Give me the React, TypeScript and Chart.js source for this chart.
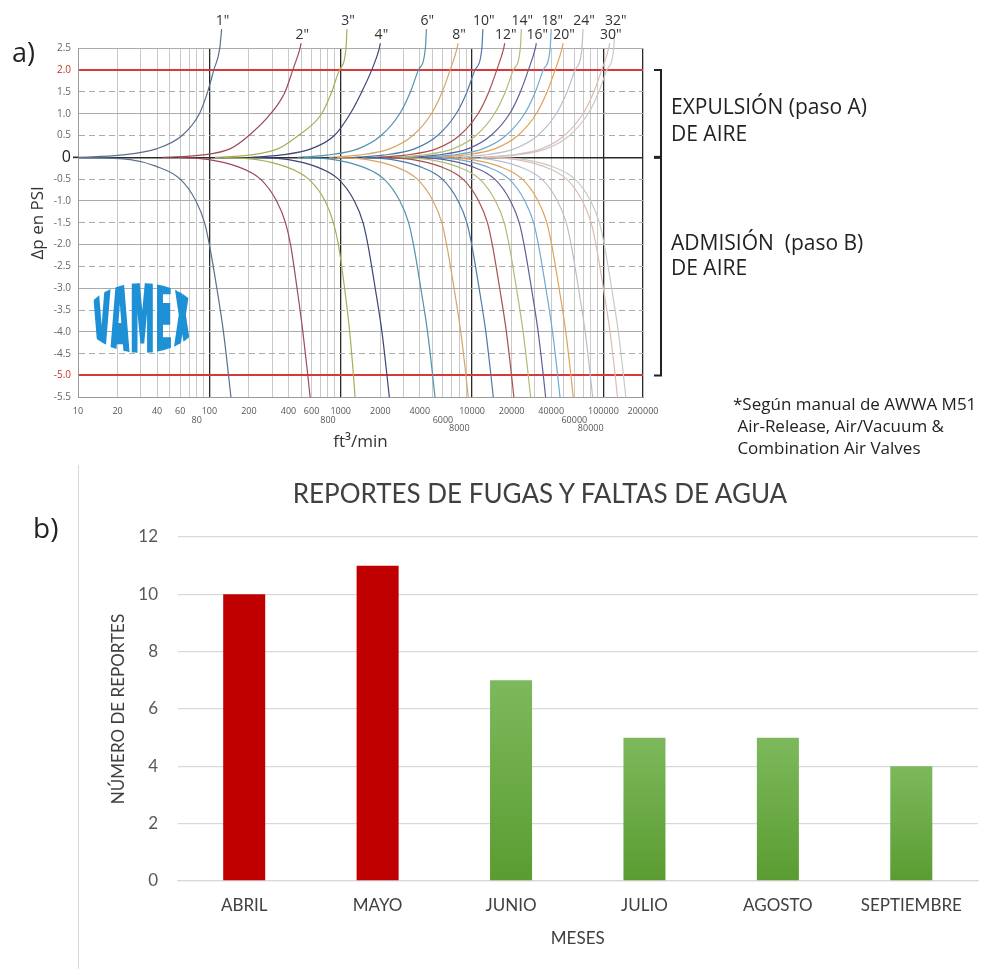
import React, { useEffect, useRef } from "react";
import { Chart, registerables } from "chart.js";

Chart.register(...registerables);

// ---------------- Panel a) data ----------------
const SIZES = ['1"', '2"', '3"', '4"', '6"', '8"', '10"', '12"', '14"', '16"', '18"', '20"', '24"', '30"', '32"'];
const SIZE_COLORS = ["#5b6f8c", "#9c4a5a", "#a9ad57", "#3d4674", "#4f93ad", "#d7a468", "#4e79a6", "#a65050", "#b3ba76", "#5f5f96", "#6fa9d2", "#e3a155", "#b9bfcc", "#dcbcb4", "#c9c9c9"];
const LABEL_ROW = [0, 1, 0, 1, 0, 1, 0, 1, 0, 1, 0, 1, 0, 1, 0];
const LEADER_DP = [2.94, 2.62];

// Expulsion (positive) curves: Δp values and flow (ft3/min) per size; last flow = leader end
const EXP_DP = [0, 0.05, 0.2, 0.5, 1.0, 1.5, 2.0, 2.5];
const EXP_Q = [
  [10, 21, 40, 62, 84, 97, 108, 120, 124],
  [44, 86, 145, 200, 293, 377, 431, 490, 500],
  [110, 200, 335, 475, 716, 853, 975, 1097, 1115],
  [206, 344, 600, 895, 1180, 1445, 1720, 1968, 2005],
  [470, 780, 1370, 2030, 2810, 3390, 3900, 4410, 4490],
  [820, 1360, 2380, 3540, 4900, 5920, 6800, 7680, 7820],
  [1260, 2100, 3680, 5460, 7560, 9140, 10500, 11870, 12080],
  [1850, 3080, 5390, 8010, 11100, 13400, 15400, 17400, 17720],
  [2470, 4120, 7210, 10700, 14800, 17900, 20600, 23300, 23720],
  [3220, 5360, 9380, 13900, 19300, 23300, 26800, 30300, 30850],
  [4180, 6960, 12200, 18100, 25100, 30300, 34800, 39300, 40020],
  [5140, 8560, 15000, 22300, 30800, 37200, 42800, 48400, 49280],
  [7280, 12100, 21200, 31600, 43700, 52800, 60700, 68600, 69850],
  [11600, 19400, 34000, 50400, 69800, 84400, 97000, 109600, 111600],
  [12700, 21200, 37100, 55100, 76300, 92200, 106000, 119800, 122000],
];

// Admission (negative) curves
const ADM_DP = [0, -0.05, -0.2, -0.5, -1.0, -1.5, -2.0, -3.0, -4.0, -5.0, -5.5];
const ADM_Q = [
  [10, 25, 39, 60, 79, 92, 100, 114, 128, 140, 146],
  [58, 99, 160, 245, 325, 380, 415, 465, 515, 562, 585],
  [128, 230, 370, 570, 760, 880, 960, 1070, 1170, 1250, 1285],
  [234, 400, 633, 960, 1270, 1480, 1610, 1830, 2060, 2250, 2345],
  [522, 887, 1410, 2140, 2820, 3290, 3580, 4070, 4580, 5010, 5220],
  [935, 1590, 2525, 3830, 5050, 5890, 6400, 7290, 8200, 8980, 9350],
  [1450, 2465, 3915, 5945, 7830, 9135, 9930, 11310, 12720, 13920, 14500],
  [2080, 3540, 5620, 8530, 11230, 13100, 14250, 16220, 18240, 19970, 20800],
  [2790, 4740, 7530, 11440, 15070, 17580, 19110, 21760, 24470, 26780, 27900],
  [3630, 6170, 9800, 14880, 19600, 22870, 24870, 28310, 31840, 34850, 36300],
  [4670, 7940, 12610, 19150, 25220, 29420, 31990, 36430, 40960, 44830, 46700],
  [5890, 10010, 15900, 24150, 31810, 37110, 40350, 45940, 51660, 56540, 58900],
  [8280, 14080, 22360, 33950, 44710, 52160, 56720, 64580, 72620, 79490, 82800],
  [12800, 21760, 34560, 52480, 69120, 80640, 87680, 99840, 112260, 122880, 128000],
  [14800, 25160, 39960, 60680, 79920, 93240, 101380, 115440, 129800, 142080, 148000],
];

const X_MIN = 10;
const X_MAX = 200000;
const X_GRID = [
  10, 20, 30, 40, 50, 60, 70, 80, 90,
  100, 200, 300, 400, 500, 600, 700, 800, 900,
  1000, 2000, 3000, 4000, 5000, 6000, 7000, 8000, 9000,
  10000, 20000, 30000, 40000, 50000, 60000, 70000, 80000, 90000,
  100000, 200000,
];
const X_LABEL_VALUES = [10, 20, 40, 60, 80, 100, 200, 400, 600, 800, 1000, 2000, 4000, 6000, 8000, 10000, 20000, 40000, 60000, 80000, 100000, 200000];
const X_LABEL_ROW = [0, 0, 0, 0, 1, 0, 0, 0, 0, 1, 0, 0, 0, 1, 2, 0, 0, 0, 1, 2, 0, 0];
const X_DARK = [100, 1000, 10000, 100000, 200000];

const Y_MIN = -5.5;
const Y_MAX = 2.5;
const Y_TICKS = [-5.5, -5, -4.5, -4, -3.5, -3, -2.5, -2, -1.5, -1, -0.5, 0, 0.5, 1, 1.5, 2, 2.5];
const Y_RED = [2, -5];
const BRACKET = [2, 0, -5];

// ---------------- Panel b) data ----------------
const MONTHS = ["ABRIL", "MAYO", "JUNIO", "JULIO", "AGOSTO", "SEPTIEMBRE"];
const REPORTS = [10, 11, 7, 5, 5, 4];
const BAR_KIND = ["red", "red", "green", "green", "green", "green"];
const B_Y_MAX = 12;
const B_Y_STEP = 2;

const FA = '"Open Sans", sans-serif';
const FB = 'Lato, sans-serif';

function ChartA() {
  const ref = useRef<HTMLCanvasElement | null>(null);
  useEffect(() => {
    if (!ref.current) return;
    const datasets: any[] = [];
    SIZES.forEach((s, i) => {
      const pos = EXP_DP.map((d, k) => ({ x: EXP_Q[i][k], y: d }));
      pos.push({ x: EXP_Q[i][EXP_DP.length], y: LEADER_DP[LABEL_ROW[i]] });
      datasets.push({
        label: s + " exp",
        sizeLabel: s,
        data: pos,
        borderColor: SIZE_COLORS[i],
        borderWidth: 1.2,
        pointRadius: 0,
        cubicInterpolationMode: "monotone",
        clip: false,
        fill: false,
      });
      datasets.push({
        label: s + " adm",
        data: ADM_DP.map((d, k) => ({ x: ADM_Q[i][k], y: d })),
        borderColor: SIZE_COLORS[i],
        borderWidth: 1.2,
        pointRadius: 0,
        cubicInterpolationMode: "monotone",
        clip: false,
        fill: false,
      });
    });

    const labelsPlugin = {
      id: "sizeLabels",
      afterDatasetsDraw(chart: any) {
        const ctx = chart.ctx;
        ctx.save();
        ctx.font = `14px ${FA}`;
        ctx.fillStyle = "#333";
        ctx.textAlign = "center";
        ctx.textBaseline = "bottom";
        chart.data.datasets.forEach((ds: any, i: number) => {
          if (!ds.sizeLabel) return;
          const meta = chart.getDatasetMeta(i);
          const pt = meta.data[meta.data.length - 1];
          ctx.fillText(ds.sizeLabel, pt.x + 1, pt.y - 1);
        });
        // bracket
        const y = chart.scales.y;
        const yt = y.getPixelForValue(BRACKET[0]);
        const ym = y.getPixelForValue(BRACKET[1]);
        const yb = y.getPixelForValue(BRACKET[2]);
        ctx.strokeStyle = "#222";
        ctx.lineWidth = 2;
        ctx.beginPath();
        ctx.moveTo(654, yt);
        ctx.lineTo(661, yt);
        ctx.lineTo(661, yb);
        ctx.lineTo(654, yb);
        ctx.stroke();
        ctx.lineWidth = 3;
        ctx.beginPath();
        ctx.moveTo(654, ym);
        ctx.lineTo(661, ym);
        ctx.stroke();
        // short tick left of the plot on the zero line
        ctx.strokeStyle = "#2a2a2a";
        ctx.lineWidth = 1.6;
        ctx.beginPath();
        ctx.moveTo(chart.chartArea.left - 5, ym);
        ctx.lineTo(chart.chartArea.left, ym);
        ctx.stroke();
        ctx.restore();
      },
    };

    const chart = new Chart(ref.current, {
      type: "line",
      data: { datasets },
      options: {
        animation: false,
        responsive: false,
        maintainAspectRatio: false,
        layout: { padding: { left: 0, right: 348, top: 48.3, bottom: 0 } },
        plugins: { legend: { display: false }, tooltip: { enabled: false } },
        elements: { point: { radius: 0 } },
        scales: {
          x: {
            type: "logarithmic",
            min: X_MIN,
            max: X_MAX,
            afterBuildTicks: (s: any) => {
              s.ticks = X_GRID.map((v) => ({ value: v }));
            },
            afterFit: (s: any) => {
              s.height = 62.7;
            },
            ticks: {
              autoSkip: false,
              maxRotation: 0,
              minRotation: 0,
              padding: 10,
              color: "#555",
              font: { family: FA, size: 9, lineHeight: 0.95 },
              callback: (v: any) => {
                const i = X_LABEL_VALUES.indexOf(Number(v));
                if (i < 0) return "";
                const row = X_LABEL_ROW[i];
                if (!row) return String(v);
                const lines: string[] = [];
                for (let k = 0; k < row; k++) lines.push("");
                lines.push(String(v));
                return lines;
              },
            },
            grid: {
              drawTicks: false,
              color: (c: any) => (c.tick && X_DARK.includes(c.tick.value) ? "#2a2a2a" : "#c9c9c9"),
              lineWidth: (c: any) => (c.tick && X_DARK.includes(c.tick.value) ? 1.3 : 1),
            },
            border: { color: "#9a9a9a", width: 1 },
            title: {
              display: true,
              text: "ft³/min",
              color: "#333",
              font: { family: FA, size: 17 },
              padding: { top: 0, bottom: 8 },
            },
          },
          y: {
            type: "linear",
            min: Y_MIN,
            max: Y_MAX,
            afterBuildTicks: (s: any) => {
              s.ticks = Y_TICKS.map((v) => ({ value: v }));
            },
            afterFit: (s: any) => {
              s.width = 78;
            },
            ticks: {
              autoSkip: false,
              padding: 7,
              color: (c: any) => {
                const v = c.tick ? c.tick.value : null;
                if (Y_RED.includes(v)) return "#c0392b";
                if (v === 0) return "#222";
                return "#666";
              },
              font: (c: any) => {
                const v = c.tick ? c.tick.value : null;
                return v === 0 ? { family: FA, size: 16 } : { family: FA, size: 10 };
              },
              callback: (v: any) => (Number(v) === 0 ? "0" : Number(v).toFixed(1)),
            },
            grid: {
              drawTicks: false,
              color: (c: any) => {
                const v = c.tick ? c.tick.value : null;
                if (Y_RED.includes(v)) return "#d6393a";
                if (v === 0) return "#2a2a2a";
                return "#ababab";
              },
              lineWidth: (c: any) => {
                const v = c.tick ? c.tick.value : null;
                if (Y_RED.includes(v)) return 2;
                if (v === 0) return 1.6;
                return 1;
              },
            },
            border: {
              color: "#9a9a9a",
              dash: (c: any) => {
                const v = c.tick ? c.tick.value : null;
                if (v === null || v === undefined) return [];
                if (v === Y_MIN || v === Y_MAX) return [];
                return Math.abs(v - Math.round(v)) > 0.1 ? [6, 4] : [];
              },
            },
            title: {
              display: true,
              text: "Δp en PSI",
              color: "#333",
              font: { family: FA, size: 17 },
              padding: { top: 27.8, bottom: 0 },
            },
          },
        },
      } as any,
      plugins: [labelsPlugin],
    });
    return () => chart.destroy();
  }, []);
  return <canvas ref={ref} width={991} height={460} style={{ position: "absolute", left: 0, top: 0, width: 991, height: 460 }} />;
}

function ChartB() {
  const ref = useRef<HTMLCanvasElement | null>(null);
  useEffect(() => {
    if (!ref.current) return;
    const chart = new Chart(ref.current, {
      type: "bar",
      data: {
        labels: MONTHS,
        datasets: [
          {
            data: REPORTS,
            barPercentage: 0.315,
            categoryPercentage: 1,
            backgroundColor: (c: any) => {
              if (BAR_KIND[c.dataIndex] === "red") return "#c00000";
              const ch = c.chart;
              const ys = ch.scales && ch.scales.y;
              if (!ch.chartArea || !ys) return "#6aab45";
              const top = ys.getPixelForValue(REPORTS[c.dataIndex]);
              const g = ch.ctx.createLinearGradient(0, top, 0, ch.chartArea.bottom);
              g.addColorStop(0, "#7db95c");
              g.addColorStop(1, "#5a9c31");
              return g;
            },
            borderWidth: 0,
          },
        ],
      },
      options: {
        animation: false,
        responsive: false,
        maintainAspectRatio: false,
        layout: { padding: { left: 0, right: 13, top: 77, bottom: 0 } },
        plugins: { legend: { display: false }, tooltip: { enabled: false } },
        scales: {
          x: {
            afterFit: (s: any) => {
              s.height = 88;
            },
            grid: { display: false, drawTicks: false },
            border: { color: "#d9d9d9", width: 1.3 },
            ticks: { color: "#404040", font: { family: FB, size: 17 }, padding: 14.8, maxRotation: 0, autoSkip: false },
            title: {
              display: true,
              text: "MESES",
              color: "#404040",
              font: { family: FB, size: 17 },
              padding: { top: 0, bottom: 19.8 },
            },
          },
          y: {
            min: 0,
            max: B_Y_MAX,
            afterFit: (s: any) => {
              s.width = 177.5;
            },
            ticks: { stepSize: B_Y_STEP, color: "#595959", font: { family: FB, size: 17 }, padding: 19.5 },
            grid: { color: "#d9d9d9", lineWidth: 1.3, drawTicks: false },
            border: { display: false },
            title: {
              display: true,
              text: "NÚMERO DE REPORTES",
              color: "#404040",
              font: { family: FB, size: 17 },
              padding: { top: 108.8, bottom: 0 },
            },
          },
        },
      } as any,
    });
    return () => chart.destroy();
  }, []);
  return <canvas ref={ref} width={991} height={509} style={{ position: "absolute", left: 0, top: 460, width: 991, height: 509 }} />;
}

export default function App() {
  const txtA: React.CSSProperties = { position: "absolute", fontFamily: FA, color: "#222", whiteSpace: "pre", margin: 0 };
  return (
    <div style={{ position: "absolute", left: 0, top: 0, width: 991, height: 969, background: "#fff", overflow: "hidden" }}>
      <ChartA />
      <ChartB />
      {/* logo */}
      <div style={{ position: "absolute", left: 86, top: 283, width: 112, height: 70, borderRadius: "50%", overflow: "hidden" }}>
        <div
          style={{
            position: "absolute",
            left: "50%",
            top: "50%",
            transform: "translate(-50%, -50%) scale(0.55, 2.5)",
            fontFamily: '"DejaVu Sans", sans-serif',
            fontWeight: 900,
            fontSize: 44,
            lineHeight: "44px",
            color: "#1e90d6",
            WebkitTextStroke: "2.5px #1e90d6",
            letterSpacing: "2px",
            textIndent: "2px",
            whiteSpace: "nowrap",
          } as any}
        >
          VAMEX
        </div>
      </div>
      <div style={{ ...txtA, left: 12, top: 37, fontSize: 27, lineHeight: "30px" }}>a)</div>
      <div style={{ ...txtA, left: 671, top: 92, fontSize: 21, lineHeight: "28px" }}>EXPULSIÓN (paso A)</div>
      <div style={{ ...txtA, left: 671, top: 119, fontSize: 21, lineHeight: "28px" }}>DE AIRE</div>
      <div style={{ ...txtA, left: 671, top: 228, fontSize: 21, lineHeight: "28px" }}>ADMISIÓN  (paso B)</div>
      <div style={{ ...txtA, left: 671, top: 253, fontSize: 21, lineHeight: "28px" }}>DE AIRE</div>
      <div style={{ ...txtA, left: 733, top: 393, fontSize: 17, lineHeight: "22px" }}>
        {"*Según manual de AWWA M51\n Air-Release, Air/Vacuum &\n Combination Air Valves"}
      </div>
      <div style={{ position: "absolute", left: 78, top: 465, width: 1, height: 504, background: "#d9d9d9" }} />
      <div style={{ ...txtA, left: 33, top: 512, fontSize: 28, lineHeight: "30px" }}>b)</div>
      <div
        style={{
          position: "absolute",
          left: 78,
          width: 924,
          top: 476,
          textAlign: "center",
          fontFamily: FB,
          fontSize: 26,
          lineHeight: "34px",
          color: "#404040",
        }}
      >
        REPORTES DE FUGAS Y FALTAS DE AGUA
      </div>
    </div>
  );
}
